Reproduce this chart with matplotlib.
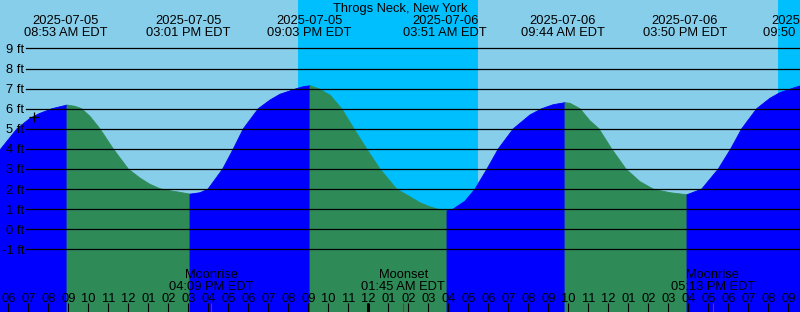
import matplotlib
matplotlib.use("Agg")
import matplotlib.pyplot as plt
from matplotlib.transforms import blended_transform_factory, offset_copy

plt.rcParams['font.family'] = ['Liberation Sans', 'DejaVu Sans']

station = "Throgs Neck, New York"

# tide heights; hours counted from 2025-07-05 00:00 EDT
tide_hours = [5.585, 6.435, 7.085, 7.585, 8.185, 8.935,
              9.335, 9.67, 10.085, 10.585, 11.25, 12.0, 12.585, 13.085, 13.585, 14.085,
              14.585, 15.085,
              15.585, 15.985, 16.72, 17.25, 17.75, 18.5, 19.085, 19.585, 20.42, 20.77, 21.085,
              21.5, 22.085, 22.67, 23.285, 23.92, 24.585, 25.42, 26.085, 26.585, 27.085,
              27.485, 27.935,
              28.235, 28.835, 29.335, 29.935, 30.5, 31.25, 32.085, 32.67, 33.25, 33.835,
              34.085, 34.585, 35.085, 35.535, 36.17, 36.885, 37.585, 38.25, 39.085, 39.935,
              40.67, 41.5, 42.12, 42.67, 43.42, 44.085, 44.585, 45.17, 45.585]
tide_ft = [3.95, 5.00, 5.52, 5.77, 6.00, 6.18,
           6.12, 6.00, 5.62, 5.00, 4.00, 3.00, 2.55, 2.24, 2.02, 1.92,
           1.84, 1.75,
           1.82, 2.00, 3.00, 4.00, 5.00, 6.00, 6.43, 6.72, 7.00, 7.10, 7.14,
           7.00, 6.68, 6.00, 5.00, 4.00, 3.00, 2.00, 1.62, 1.32, 1.12,
           1.00, 0.92,
           1.00, 1.40, 2.00, 3.00, 4.00, 5.00, 5.69, 6.00, 6.20, 6.30,
           6.27, 6.00, 5.40, 5.00, 4.00, 3.00, 2.37, 2.00, 1.82, 1.72,
           2.00, 3.00, 4.00, 5.00, 6.00, 6.52, 6.80, 7.00, 7.13]

extreme_hours = [8.883, 15.017, 21.05, 27.85, 33.733, 39.833, 45.833]
extreme_dates = ["2025-07-05", "2025-07-05", "2025-07-05", "2025-07-06",
                 "2025-07-06", "2025-07-06", "2025-07-06"]
extreme_times = ["08:53 AM EDT", "03:01 PM EDT", "09:03 PM EDT", "03:51 AM EDT",
                 "09:44 AM EDT", "03:50 PM EDT", "09:50 PM EDT"]

moon_hours = [16.15, 25.75, 41.217]
moon_names = ["Moonrise", "Moonset", "Moonrise"]
moon_times = ["04:09 PM EDT", "01:45 AM EDT", "05:13 PM EDT"]

night_start = [20.47, 44.5]
night_end = [29.47, 48.0]

now_hour = 7.3
now_ft = 5.6

grid_ft = list(range(-1, 10))
hour_ticks = list(range(6, 46))

DAY = '#87CEEB'
NIGHT = '#00BFFF'
RISING = '#0000FF'
FALLING = '#2E8B57'
FS = 9.3

W, H = 800, 312
fig = plt.figure(figsize=(W / 100, H / 100), dpi=100)
ax = fig.add_axes([0, 0, 1, 1])
ax.set_facecolor(DAY)
for s in ax.spines.values():
    s.set_visible(False)
ax.set_xticks([])
ax.set_yticks([])

x_left, x_right = tide_hours[0], tide_hours[-1]
ax.set_xlim(x_left, x_right)
ax.set_ylim(-4.114, 11.408)

for a, b in zip(night_start, night_end):
    ax.axvspan(a, b, color=NIGHT, lw=0, zorder=1)

# split the curve at its highs and lows, rising in blue, falling in green
turns = [0]
for i in range(1, len(tide_ft) - 1):
    if (tide_ft[i] - tide_ft[i - 1]) * (tide_ft[i + 1] - tide_ft[i]) < 0:
        turns.append(i)
turns.append(len(tide_ft) - 1)
for a, b in zip(turns[:-1], turns[1:]):
    ts = tide_hours[a:b + 1]
    fs = tide_ft[a:b + 1]
    col = RISING if fs[-1] > fs[0] else FALLING
    ax.fill_between(ts, fs, -10, facecolor=col, edgecolor=col, lw=0.6, zorder=2)

# depth grid
ylab = blended_transform_factory(ax.transAxes, ax.transData)
ylab_off = offset_copy(ylab, fig=fig, y=-4.4, units='dots')
for v in grid_ft:
    ax.axhline(v, xmin=26 / W, xmax=1, color='black', lw=0.9, zorder=3)
    ax.text(24 / W, v, f"{v} ft", transform=ylab_off, ha='right', va='baseline',
            fontsize=FS, zorder=4)

ax.plot([now_hour], [now_ft], marker='+', color='black', ms=7, mew=0.9, zorder=5)

# header
ax.text(0.5, 1 - 11.7 / H, station, transform=ax.transAxes, ha='center',
        va='baseline', fontsize=FS)
top = blended_transform_factory(ax.transData, ax.transAxes)
for h, d, t in zip(extreme_hours, extreme_dates, extreme_times):
    ax.text(h, 1 - 24 / H, d, transform=top, ha='center', va='baseline', fontsize=FS,
            clip_on=False)
    ax.text(h, 1 - 36.5 / H, t, transform=top, ha='center', va='baseline', fontsize=FS,
            clip_on=False)

# hour axis along the bottom
for h in hour_ticks:
    ax.text(h, (H - 301.7) / H, f"{(h - 1) % 12 + 1:02d}", transform=top,
            ha='center', va='baseline', fontsize=FS, zorder=6)
ax.vlines(hour_ticks, 0, 9 / H, transform=top, color='black', lw=0.8, zorder=6)
ax.vlines([24], 0, 9 / H, transform=top, color='black', lw=2.2, zorder=6)

# moon events
ax.vlines(moon_hours, 0, 9 / H, transform=top, color='red', lw=0.8, zorder=7)
for h, n, t in zip(moon_hours, moon_names, moon_times):
    ax.text(h, (H - 278.3) / H, n, transform=top, ha='center', va='baseline',
            fontsize=FS, zorder=6)
    ax.text(h, (H - 290) / H, t, transform=top, ha='center', va='baseline',
            fontsize=FS, zorder=6)

fig.savefig("out.png", dpi=100)
